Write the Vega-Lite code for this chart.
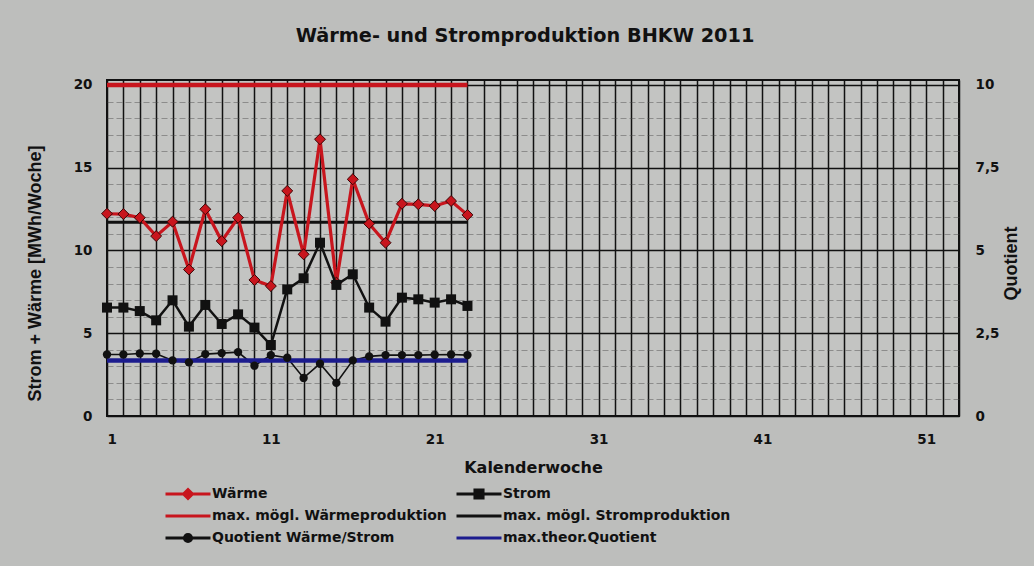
{
  "$schema": "https://vega.github.io/schema/vega-lite/v6.json",
  "width": 852,
  "height": 336,
  "padding": {"left": 26, "top": 26, "right": 32, "bottom": 19},
  "background": "#bdbebc",
  "title": {
    "text": "Wärme- und Stromproduktion BHKW 2011",
    "font": "DejaVu Sans",
    "fontSize": 19.3,
    "fontWeight": "bold",
    "color": "#111111",
    "frame": "group",
    "anchor": "middle",
    "dx": -8,
    "offset": 30
  },
  "data": {
    "values": [
      {"kw": 1, "reihe": "Wärme", "wert": 12.22},
      {"kw": 2, "reihe": "Wärme", "wert": 12.2},
      {"kw": 3, "reihe": "Wärme", "wert": 11.98},
      {"kw": 4, "reihe": "Wärme", "wert": 10.87},
      {"kw": 5, "reihe": "Wärme", "wert": 11.74},
      {"kw": 6, "reihe": "Wärme", "wert": 8.85},
      {"kw": 7, "reihe": "Wärme", "wert": 12.49},
      {"kw": 8, "reihe": "Wärme", "wert": 10.57},
      {"kw": 9, "reihe": "Wärme", "wert": 11.98},
      {"kw": 10, "reihe": "Wärme", "wert": 8.22},
      {"kw": 11, "reihe": "Wärme", "wert": 7.85},
      {"kw": 12, "reihe": "Wärme", "wert": 13.6},
      {"kw": 13, "reihe": "Wärme", "wert": 9.77},
      {"kw": 14, "reihe": "Wärme", "wert": 16.72},
      {"kw": 15, "reihe": "Wärme", "wert": 8.06},
      {"kw": 16, "reihe": "Wärme", "wert": 14.3},
      {"kw": 17, "reihe": "Wärme", "wert": 11.62},
      {"kw": 18, "reihe": "Wärme", "wert": 10.47},
      {"kw": 19, "reihe": "Wärme", "wert": 12.82},
      {"kw": 20, "reihe": "Wärme", "wert": 12.79},
      {"kw": 21, "reihe": "Wärme", "wert": 12.69},
      {"kw": 22, "reihe": "Wärme", "wert": 12.99},
      {"kw": 23, "reihe": "Wärme", "wert": 12.15},
      {"kw": 1, "reihe": "Strom", "wert": 6.55},
      {"kw": 2, "reihe": "Strom", "wert": 6.55},
      {"kw": 3, "reihe": "Strom", "wert": 6.34},
      {"kw": 4, "reihe": "Strom", "wert": 5.78},
      {"kw": 5, "reihe": "Strom", "wert": 6.99},
      {"kw": 6, "reihe": "Strom", "wert": 5.4},
      {"kw": 7, "reihe": "Strom", "wert": 6.71},
      {"kw": 8, "reihe": "Strom", "wert": 5.56},
      {"kw": 9, "reihe": "Strom", "wert": 6.14},
      {"kw": 10, "reihe": "Strom", "wert": 5.34},
      {"kw": 11, "reihe": "Strom", "wert": 4.29},
      {"kw": 12, "reihe": "Strom", "wert": 7.65},
      {"kw": 13, "reihe": "Strom", "wert": 8.32},
      {"kw": 14, "reihe": "Strom", "wert": 10.47},
      {"kw": 15, "reihe": "Strom", "wert": 7.92},
      {"kw": 16, "reihe": "Strom", "wert": 8.56},
      {"kw": 17, "reihe": "Strom", "wert": 6.55},
      {"kw": 18, "reihe": "Strom", "wert": 5.7},
      {"kw": 19, "reihe": "Strom", "wert": 7.15},
      {"kw": 20, "reihe": "Strom", "wert": 7.05},
      {"kw": 21, "reihe": "Strom", "wert": 6.85},
      {"kw": 22, "reihe": "Strom", "wert": 7.05},
      {"kw": 23, "reihe": "Strom", "wert": 6.65},
      {"kw": 1, "reihe": "Quotient Wärme/Strom", "wert": 1.86},
      {"kw": 2, "reihe": "Quotient Wärme/Strom", "wert": 1.86},
      {"kw": 3, "reihe": "Quotient Wärme/Strom", "wert": 1.89},
      {"kw": 4, "reihe": "Quotient Wärme/Strom", "wert": 1.88},
      {"kw": 5, "reihe": "Quotient Wärme/Strom", "wert": 1.68},
      {"kw": 6, "reihe": "Quotient Wärme/Strom", "wert": 1.62},
      {"kw": 7, "reihe": "Quotient Wärme/Strom", "wert": 1.87},
      {"kw": 8, "reihe": "Quotient Wärme/Strom", "wert": 1.9},
      {"kw": 9, "reihe": "Quotient Wärme/Strom", "wert": 1.93},
      {"kw": 10, "reihe": "Quotient Wärme/Strom", "wert": 1.52},
      {"kw": 11, "reihe": "Quotient Wärme/Strom", "wert": 1.84},
      {"kw": 12, "reihe": "Quotient Wärme/Strom", "wert": 1.76},
      {"kw": 13, "reihe": "Quotient Wärme/Strom", "wert": 1.15},
      {"kw": 14, "reihe": "Quotient Wärme/Strom", "wert": 1.58},
      {"kw": 15, "reihe": "Quotient Wärme/Strom", "wert": 1.0},
      {"kw": 16, "reihe": "Quotient Wärme/Strom", "wert": 1.68},
      {"kw": 17, "reihe": "Quotient Wärme/Strom", "wert": 1.8},
      {"kw": 18, "reihe": "Quotient Wärme/Strom", "wert": 1.84},
      {"kw": 19, "reihe": "Quotient Wärme/Strom", "wert": 1.84},
      {"kw": 20, "reihe": "Quotient Wärme/Strom", "wert": 1.84},
      {"kw": 21, "reihe": "Quotient Wärme/Strom", "wert": 1.85},
      {"kw": 22, "reihe": "Quotient Wärme/Strom", "wert": 1.86},
      {"kw": 23, "reihe": "Quotient Wärme/Strom", "wert": 1.84},
      {"kw": 1, "reihe": "max. mögl. Wärmeproduktion", "wert": 20},
      {"kw": 23, "reihe": "max. mögl. Wärmeproduktion", "wert": 20},
      {"kw": 1, "reihe": "max. mögl. Stromproduktion", "wert": 11.7},
      {"kw": 23, "reihe": "max. mögl. Stromproduktion", "wert": 11.7},
      {"kw": 1, "reihe": "max.theor.Quotient", "wert": 1.68},
      {"kw": 23, "reihe": "max.theor.Quotient", "wert": 1.68}
    ]
  },
  "config": {
    "view": {"stroke": "#111111", "strokeWidth": 2, "fill": "#c3c4c2"},
    "axis": {
      "labelFont": "DejaVu Sans",
      "labelFontWeight": "bold",
      "labelFontSize": 13.5,
      "labelColor": "#111111",
      "titleColor": "#111111",
      "titleFontWeight": "bold",
      "domain": false,
      "ticks": false,
      "labelOverlap": false
    },
    "legend": {
      "orient": "none",
      "legendX": 57,
      "legendY": 403,
      "columns": 2,
      "columnPadding": 8,
      "rowPadding": 0,
      "clipHeight": 22,
      "symbolSize": 2025,
      "symbolStrokeWidth": 3,
      "labelOffset": 0,
      "labelFont": "DejaVu Sans",
      "labelFontWeight": "bold",
      "labelFontSize": 14,
      "labelColor": "#111111",
      "labelLimit": 400
    }
  },
  "resolve": {"scale": {"y": "independent"}},
  "encoding": {
    "x": {
      "field": "kw",
      "type": "quantitative",
      "title": "Kalenderwoche",
      "scale": {"domain": [1, 53], "nice": false, "zero": false},
      "axis": {
        "values": [1, 2, 3, 4, 5, 6, 7, 8, 9, 10, 11, 12, 13, 14, 15, 16, 17, 18, 19, 20, 21, 22, 23, 24, 25, 26, 27, 28, 29, 30, 31, 32, 33, 34, 35, 36, 37, 38, 39, 40, 41, 42, 43, 44, 45, 46, 47, 48, 49, 50, 51, 52, 53],
        "labelExpr": "(datum.value - 1) % 10 === 0 ? datum.label : ''",
        "grid": true,
        "gridColor": "#111111",
        "gridWidth": 1.5,
        "gridOpacity": 1,
        "labelPadding": 16,
        "titleFont": "DejaVu Sans",
        "titleFontSize": 16,
        "titlePadding": 14
      }
    }
  },
  "layer": [
    {
      "encoding": {
        "y": {
          "field": "wert",
          "type": "quantitative",
          "title": "Strom + Wärme [MWh/Woche]",
          "scale": {"domain": [0, 20.3], "nice": false},
          "axis": {
            "values": [0, 1, 2, 3, 4, 5, 6, 7, 8, 9, 10, 11, 12, 13, 14, 15, 16, 17, 18, 19, 20],
            "labelExpr": "datum.value % 5 === 0 ? datum.label : ''",
            "grid": true,
            "gridColor": {"condition": {"test": "datum.value % 5 === 0", "value": "#111111"}, "value": "#4a4a4a"},
            "gridWidth": {"condition": {"test": "datum.value % 5 === 0", "value": 1.5}, "value": 1},
            "gridOpacity": {"condition": {"test": "datum.value % 5 === 0", "value": 1}, "value": 0.45},
            "gridDash": {"condition": {"test": "datum.value % 5 === 0", "value": [1, 0]}, "value": [6, 3]},
            "labelPadding": 15,
            "titleFont": "Liberation Sans",
            "titleFontSize": 18,
            "titlePadding": 29,
            "titleY": 193
          }
        }
      },
      "layer": [
        {
          "transform": [{"filter": "false"}],
          "mark": {"type": "point", "filled": true, "opacity": 1},
          "encoding": {
            "color": {
              "field": "reihe",
              "type": "nominal",
              "title": null,
              "scale": {
                "domain": ["Wärme", "max. mögl. Wärmeproduktion", "Quotient Wärme/Strom", "Strom", "max. mögl. Stromproduktion", "max.theor.Quotient"],
                "range": ["#c8151d", "#c8151d", "#111111", "#111111", "#111111", "#1c1c8e"]
              },
              "legend": {
                "encode": {
                  "symbols": {
                    "update": {
                      "stroke": {"scale": "color", "field": "value"},
                      "fill": {"scale": "color", "field": "value"},
                      "strokeWidth": {"signal": "datum.value === 'Quotient Wärme/Strom' ? 2 : 3.5"},
                      "opacity": {"value": 1}
                    }
                  }
                }
              }
            },
            "shape": {
              "field": "reihe",
              "type": "nominal",
              "title": null,
              "scale": {
                "domain": ["Wärme", "max. mögl. Wärmeproduktion", "Quotient Wärme/Strom", "Strom", "max. mögl. Stromproduktion", "max.theor.Quotient"],
                "range": [
                  "M-1,0H1M-0.2,0L0,-0.2L0.2,0L0,0.2Z",
                  "M-1,0H1",
                  "M-1,0H1M0.16,0A0.16,0.16,0,1,1,-0.16,0A0.16,0.16,0,1,1,0.16,0Z",
                  "M-1,0H1M-0.18,-0.18H0.18V0.18H-0.18Z",
                  "M-1,0H1",
                  "M-1,0H1"
                ]
              },
              "legend": {
                "encode": {
                  "symbols": {
                    "update": {
                      "stroke": {"scale": "color", "field": "value"},
                      "fill": {"scale": "color", "field": "value"},
                      "strokeWidth": {"signal": "datum.value === 'Quotient Wärme/Strom' ? 2 : 3.5"},
                      "opacity": {"value": 1}
                    }
                  }
                }
              }
            }
          }
        },
        {
          "transform": [{"filter": "datum.reihe === 'max. mögl. Wärmeproduktion'"}],
          "mark": {"type": "line", "strokeWidth": 4.5},
          "encoding": {"color": {"field": "reihe", "type": "nominal", "title": null}}
        },
        {
          "transform": [{"filter": "datum.reihe === 'max. mögl. Stromproduktion'"}],
          "mark": {"type": "line", "strokeWidth": 3},
          "encoding": {"color": {"field": "reihe", "type": "nominal", "title": null}}
        },
        {
          "transform": [{"filter": "datum.reihe === 'Wärme'"}],
          "mark": {"type": "line", "strokeWidth": 3.2},
          "encoding": {"color": {"field": "reihe", "type": "nominal", "title": null}}
        },
        {
          "transform": [{"filter": "datum.reihe === 'Wärme'"}],
          "mark": {"type": "point", "filled": true, "shape": "diamond", "size": 120, "stroke": "#3a0606", "strokeWidth": 1, "opacity": 1},
          "encoding": {"color": {"field": "reihe", "type": "nominal", "title": null}}
        },
        {
          "transform": [{"filter": "datum.reihe === 'Strom'"}],
          "mark": {"type": "line", "strokeWidth": 2.5},
          "encoding": {"color": {"field": "reihe", "type": "nominal", "title": null}}
        },
        {
          "transform": [{"filter": "datum.reihe === 'Strom'"}],
          "mark": {"type": "point", "filled": true, "shape": "square", "size": 100, "opacity": 1},
          "encoding": {"color": {"field": "reihe", "type": "nominal", "title": null}}
        }
      ]
    },
    {
      "encoding": {
        "y": {
          "field": "wert",
          "type": "quantitative",
          "title": "Quotient",
          "scale": {"domain": [0, 10.15], "nice": false},
          "axis": {
            "orient": "right",
            "values": [0, 2.5, 5, 7.5, 10],
            "labelExpr": "replace(datum.value + '', '.', ',')",
            "grid": false,
            "labelPadding": 16,
            "titleFont": "Liberation Sans",
            "titleFontSize": 18,
            "titleAngle": 270,
            "titlePadding": 22,
            "titleY": 183
          }
        }
      },
      "layer": [
        {
          "transform": [{"filter": "datum.reihe === 'Quotient Wärme/Strom'"}],
          "mark": {"type": "line", "strokeWidth": 1.6},
          "encoding": {"color": {"field": "reihe", "type": "nominal", "title": null}}
        },
        {
          "transform": [{"filter": "datum.reihe === 'max.theor.Quotient'"}],
          "mark": {"type": "line", "strokeWidth": 4.5},
          "encoding": {"color": {"field": "reihe", "type": "nominal", "title": null}}
        },
        {
          "transform": [{"filter": "datum.reihe === 'Quotient Wärme/Strom'"}],
          "mark": {"type": "point", "filled": true, "shape": "circle", "size": 70, "opacity": 1},
          "encoding": {"color": {"field": "reihe", "type": "nominal", "title": null}}
        }
      ]
    }
  ]
}
